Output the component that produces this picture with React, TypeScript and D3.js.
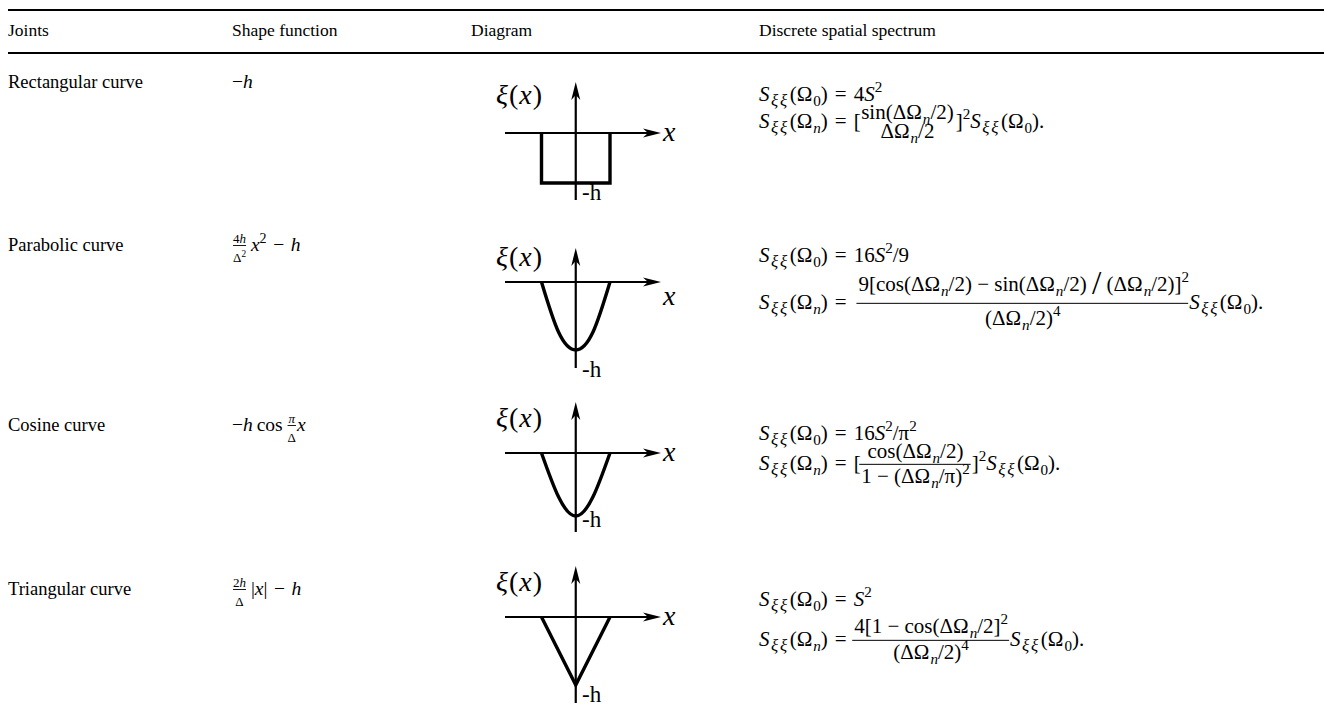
import React, { useEffect, useRef } from "react";
import * as d3 from "d3";

type Tok = [string, string?];
type Frac = { num: Tok[]; den: Tok[]; bar: boolean; up: number; down: number; small?: boolean };
type Item = Tok[] | Frac;

const W = 1324;
const H = 716;
const FONT = "'Liberation Serif', 'Times New Roman', Times, serif";
const EQ = "\u2004=\u2004";
const MI = "\u2005−\u2005";

const headers = ["Joints", "Shape function", "Diagram", "Discrete spatial spectrum"];
const joints = ["Rectangular curve", "Parabolic curve", "Cosine curve", "Triangular curve"];

// shape function column
const shapeFns: Item[][] = [
  [[["−"], ["h", "i"]]],
  [
    { num: [["4"], ["h", "i"]], den: [["Δ"], ["2", "p"]], bar: true, up: -8, down: 5, small: true },
    [["\u2009"], ["x", "i"], ["2", "p"], ["\u2004−\u2004"], ["h", "i"]],
  ],
  [
    [["−"], ["h", "i"], ["\u2009cos\u2009"]],
    { num: [["π", "i"]], den: [["Δ"]], bar: true, up: -8, down: 5, small: true },
    [["x", "i"]],
  ],
  [
    { num: [["2"], ["h", "i"]], den: [["Δ"]], bar: true, up: -8, down: 5, small: true },
    [["\u2009|"], ["x", "i"], ["|"], ["\u2004−\u2004"], ["h", "i"]],
  ],
];

const S0: Tok[] = [["S", "i"], ["ξξ", "bx"], ["(Ω"], ["0", "b"], [")"]];
const Sn: Tok[] = [["S", "i"], ["ξξ", "bx"], ["(Ω"], ["n", "bi"], [")"]];

// discrete spatial spectrum, two lines per row
const spectra: Item[][][] = [
  [
    [[...S0, [EQ + "4"], ["S", "i"], ["2", "p"]]],
    [
      [...Sn, [EQ + "["]],
      { num: [["sin(ΔΩ"], ["n", "bi"], ["/2)"]], den: [["ΔΩ"], ["n", "bi"], ["/2"]], bar: false, up: -9, down: 10 },
      [["]"], ["2", "p"], ...S0, ["."]],
    ],
  ],
  [
    [[...S0, [EQ + "16"], ["S", "i"], ["2", "p"], ["/9"]]],
    [
      [...Sn, [EQ + "\u2009"]],
      {
        num: [["9[cos(ΔΩ"], ["n", "bi"], ["/2)" + MI + "sin(ΔΩ"], ["n", "bi"], ["/2)\u2005"], ["/", "big"], ["\u2005(ΔΩ"], ["n", "bi"], ["/2)]"], ["2", "p"]],
        den: [["(ΔΩ"], ["n", "bi"], ["/2)"], ["4", "p"]],
        bar: true, up: -18, down: 16,
      },
      [...S0, ["."]],
    ],
  ],
  [
    [[...S0, [EQ + "16"], ["S", "i"], ["2", "p"], ["/π"], ["2", "p"]]],
    [
      [...Sn, [EQ + "["]],
      { num: [["cos(ΔΩ"], ["n", "bi"], ["/2)"]], den: [["1" + MI + "(ΔΩ"], ["n", "bi"], ["/π)"], ["2", "p"]], bar: true, up: -12, down: 13 },
      [["]"], ["2", "p"], ...S0, ["."]],
    ],
  ],
  [
    [[...S0, [EQ], ["S", "i"], ["2", "p"]]],
    [
      [...Sn, [EQ]],
      { num: [["4[1" + MI + "cos(ΔΩ"], ["n", "bi"], ["/2]"], ["2", "p"]], den: [["(ΔΩ"], ["n", "bi"], ["/2)"], ["4", "p"]], bar: true, up: -13, down: 13 },
      [...S0, ["."]],
    ],
  ],
];

// diagram outlines, normalised: x in [-1, 1], depth in [-1, 0]
const rectShape: [number, number][] = [[-1, 0], [-1, -1], [1, -1], [1, 0]];
const parabShape: [number, number][] = [[-1, 0], [-0.5, -0.74], [0, -1], [0.5, -0.74], [1, 0]];
const cosShape: [number, number][] = [[-1, 0], [-0.5, -0.7], [0, -1], [0.5, -0.7], [1, 0]];
const triShape: [number, number][] = [[-1, 0], [0, -1], [1, 0]];
const shapes = [rectShape, parabShape, cosShape, triShape];
const smooth = [false, true, true, false];

// layout
const colX = [8, 232, 471, 759];
const rowY = [88, 251, 431, 595];
const specY = [[101, 128], [262, 309], [440, 470], [606, 646]];
const diag = [
  { axis: 133, top: 82, bottom: 200, depth: 50, xi: 104, xl: 141, h: 200 },
  { axis: 282, top: 248, bottom: 368, depth: 68, xi: 266, xl: 305, h: 377 },
  { axis: 453, top: 402, bottom: 532, depth: 63, xi: 427, xl: 461, h: 527 },
  { axis: 617, top: 566, bottom: 703, depth: 68, xi: 591, xl: 625, h: 702 },
];

const isFrac = (it: Item): it is Frac => !Array.isArray(it);

function drawToks(g: any, x: number, y: number, toks: Tok[], fs: number, ls = 0) {
  const text = g.append("text").attr("x", x).attr("y", y)
    .attr("font-size", fs).style("font-family", FONT).attr("fill", "#000")
    .style("white-space", "pre");
  if (ls) text.attr("letter-spacing", ls);
  let off = 0;
  toks.forEach(([s, st = ""]) => {
    let target = 0;
    if (st === "b" || st === "bi" || st === "bx") target = 0.24 * fs;
    if (st === "p") target = -0.42 * fs;
    if (st === "big") target = 0.12 * fs;
    const ts = text.append("tspan").attr("dy", target - off).text(s);
    off = target;
    if (st === "b" || st === "bi") ts.attr("font-size", fs * 0.72).attr("dx", 1);
    if (st === "p") ts.attr("font-size", fs * 0.72);
    if (st === "bx") ts.attr("font-size", fs * 0.8).attr("letter-spacing", 2.5).attr("dx", 1.5);
    if (st === "big") ts.attr("font-size", fs * 1.6);
    if (st === "i" || st === "bi" || st === "bx") ts.attr("font-style", "italic");
  });
  const w = (text.node() as SVGTextElement).getComputedTextLength();
  return { text, w };
}

function drawLine(g: any, x0: number, y: number, items: Item[], fs: number) {
  let x = x0;
  items.forEach((it) => {
    if (isFrac(it)) {
      const f = it.small ? 13 : fs;
      const n = drawToks(g, x, y + it.up, it.num, f);
      const d = drawToks(g, x, y + it.down + (it.small ? 6 : 0), it.den, f);
      const pad = it.small ? 1 : 3;
      const w = Math.max(n.w, d.w) + pad * 2;
      n.text.attr("x", x + (w - n.w) / 2);
      d.text.attr("x", x + (w - d.w) / 2);
      if (it.bar) {
        const by = y - (it.small ? 5.5 : 0.27 * fs);
        g.append("line").attr("x1", x + 1).attr("x2", x + w - 1)
          .attr("y1", by).attr("y2", by).attr("stroke", "#000").attr("stroke-width", it.small ? 0.9 : 1);
      }
      x += w;
    } else {
      x += drawToks(g, x, y, it, fs).w;
    }
  });
  return x;
}

export default function App() {
  const ref = useRef<SVGSVGElement>(null);

  useEffect(() => {
    const svg = d3.select(ref.current);
    svg.selectAll("*").remove();
    const g = svg.append("g");

    // rules
    [10, 53].forEach((y) => {
      g.append("line").attr("x1", 8).attr("x2", W).attr("y1", y).attr("y2", y)
        .attr("stroke", "#000").attr("stroke-width", 2.2);
    });

    headers.forEach((h, i) => {
      g.append("text").attr("x", colX[i]).attr("y", 36).style("font-family", FONT)
        .attr("font-size", 17.5).text(h);
    });

    joints.forEach((j, i) => {
      g.append("text").attr("x", colX[0]).attr("y", rowY[i]).style("font-family", FONT)
        .attr("font-size", 18.5).text(j);
      drawLine(g, colX[1], rowY[i], shapeFns[i], 19.5);
      spectra[i].forEach((line, k) => drawLine(g, colX[3], specY[i][k], line, 21));
    });

    // diagrams
    const xs = d3.scaleLinear().domain([-1, 1]).range([541.5, 610]);
    const axisL = 505;
    const axisR = 661;
    diag.forEach((d, i) => {
      const ys = d3.scaleLinear().domain([-1, 0]).range([d.axis + d.depth, d.axis]);
      const cx = xs(0);
      const dg = g.append("g");
      dg.append("line").attr("x1", axisL).attr("x2", axisR - 8).attr("y1", d.axis).attr("y2", d.axis)
        .attr("stroke", "#000").attr("stroke-width", 2.2);
      dg.append("path")
        .attr("d", `M${axisR},${d.axis} L${axisR - 18},${d.axis - 4.5} L${axisR - 13},${d.axis} L${axisR - 18},${d.axis + 4.5} Z`)
        .attr("fill", "#000");
      dg.append("line").attr("x1", cx).attr("x2", cx).attr("y1", d.bottom).attr("y2", d.top + 8)
        .attr("stroke", "#000").attr("stroke-width", 2.2);
      dg.append("path")
        .attr("d", `M${cx},${d.top} L${cx - 4.5},${d.top + 18} L${cx},${d.top + 13} L${cx + 4.5},${d.top + 18} Z`)
        .attr("fill", "#000");
      const line = d3.line<[number, number]>()
        .x((p) => xs(p[0]))
        .y((p) => ys(p[1]))
        .curve(smooth[i] ? d3.curveNatural : d3.curveLinear);
      dg.append("path").attr("d", line(shapes[i])).attr("fill", "none")
        .attr("stroke", "#000").attr("stroke-width", 3.4).attr("stroke-linejoin", "miter");
      drawToks(dg, 496, d.xi, [["ξ", "i"], ["("], ["x", "i"], [")"]], 28, 1);
      drawToks(dg, 663, d.xl, [["x", "i"]], 28);
      drawToks(dg, 582, d.h, [["-h"]], 23);
    });
  }, []);

  return (
    <svg ref={ref} width={W} height={H} style={{ position: "absolute", left: 0, top: 0, background: "#fff" }} />
  );
}
